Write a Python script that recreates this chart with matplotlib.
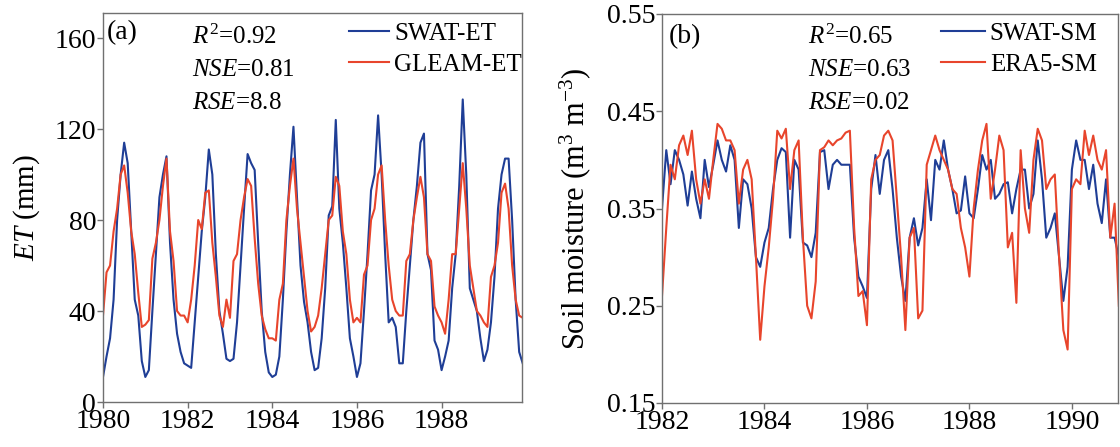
import numpy as np
import matplotlib
matplotlib.use("Agg")
import matplotlib.pyplot as plt

plt.rcParams['font.family'] = ['Liberation Serif', 'DejaVu Serif']
plt.rcParams['mathtext.fontset'] = 'custom'
plt.rcParams['mathtext.rm'] = 'Liberation Serif'
plt.rcParams['mathtext.it'] = 'Liberation Serif:italic'
plt.rcParams['mathtext.bf'] = 'Liberation Serif:bold'

# ---------------- data ----------------
et_start_year = 1980
swat_et = [
    11, 20, 28, 45, 80, 100, 114, 105, 75, 45, 38, 18,      # 1980
    11, 14, 40, 65, 90, 100, 108, 70, 45, 30, 22, 17,       # 1981
    16, 15, 35, 55, 75, 90, 111, 100, 65, 40, 30, 19,       # 1982
    18, 19, 35, 60, 85, 109, 105, 102, 70, 40, 22, 13,      # 1983
    11, 12, 20, 45, 75, 100, 121, 90, 60, 44, 35, 22,       # 1984
    14, 15, 28, 50, 82, 86, 124, 85, 70, 50, 28, 20,        # 1985
    11, 17, 40, 65, 93, 100, 126, 100, 65, 35, 37, 33,      # 1986
    17, 17, 40, 60, 80, 95, 114, 118, 65, 58, 27, 23,       # 1987
    14, 20, 27, 50, 65, 95, 133, 100, 50, 45, 40, 28,       # 1988
    18, 23, 35, 55, 85, 100, 107, 107, 80, 45, 22, 17,      # 1989
]
gleam_et = [
    38, 57, 60, 75, 85, 100, 104, 92, 75, 65, 48, 33,       # 1980
    34, 36, 63, 70, 80, 95, 107, 75, 62, 40, 38, 38,        # 1981
    35, 45, 60, 80, 76, 92, 93, 70, 55, 38, 33, 45,         # 1982
    37, 62, 65, 80, 90, 98, 95, 72, 52, 38, 32, 28,         # 1983
    28, 27, 45, 52, 80, 95, 107, 85, 70, 55, 40, 31,        # 1984
    33, 38, 50, 65, 80, 82, 99, 95, 75, 65, 45, 35,         # 1985
    37, 35, 56, 60, 80, 85, 100, 104, 80, 60, 45, 40,       # 1986
    38, 38, 62, 65, 80, 90, 99, 90, 65, 62, 42, 38,         # 1987
    35, 30, 45, 65, 65, 85, 105, 85, 60, 50, 40, 38,        # 1988
    35, 33, 55, 60, 70, 92, 96, 85, 60, 45, 38, 37,         # 1989
]

sm_start_year = 1982
swat_sm = [
    0.350, 0.410, 0.375, 0.410, 0.400, 0.385, 0.353, 0.388, 0.360, 0.340, 0.400, 0.372,  # 1982
    0.395, 0.420, 0.400, 0.388, 0.415, 0.400, 0.330, 0.380, 0.375, 0.350, 0.300, 0.290,  # 1983
    0.315, 0.330, 0.370, 0.400, 0.412, 0.408, 0.320, 0.400, 0.390, 0.315, 0.312, 0.300,  # 1984
    0.325, 0.408, 0.410, 0.370, 0.395, 0.400, 0.395, 0.395, 0.395, 0.320, 0.280, 0.270,  # 1985
    0.258, 0.370, 0.405, 0.365, 0.400, 0.410, 0.370, 0.320, 0.280, 0.255, 0.320, 0.340,  # 1986
    0.312, 0.330, 0.380, 0.338, 0.400, 0.390, 0.420, 0.390, 0.370, 0.345, 0.348, 0.383,  # 1987
    0.345, 0.340, 0.370, 0.405, 0.390, 0.400, 0.360, 0.365, 0.375, 0.377, 0.345, 0.370,  # 1988
    0.390, 0.390, 0.350, 0.365, 0.420, 0.380, 0.320, 0.330, 0.345, 0.300, 0.255, 0.290,  # 1989
    0.390, 0.420, 0.400, 0.400, 0.370, 0.395, 0.355, 0.335, 0.380, 0.320, 0.320, 0.300,  # 1990
]
era5_sm = [
    0.260, 0.330, 0.395, 0.380, 0.415, 0.425, 0.405, 0.430, 0.380, 0.355, 0.380, 0.360,  # 1982
    0.400, 0.437, 0.432, 0.420, 0.420, 0.410, 0.355, 0.390, 0.400, 0.380, 0.300, 0.215,  # 1983
    0.270, 0.310, 0.360, 0.430, 0.422, 0.432, 0.370, 0.410, 0.420, 0.320, 0.250, 0.237,  # 1984
    0.275, 0.410, 0.413, 0.420, 0.415, 0.420, 0.422, 0.428, 0.430, 0.330, 0.260, 0.265,  # 1985
    0.230, 0.380, 0.400, 0.405, 0.425, 0.430, 0.420, 0.360, 0.300, 0.225, 0.320, 0.330,  # 1986
    0.237, 0.245, 0.395, 0.410, 0.425, 0.410, 0.400, 0.390, 0.370, 0.365, 0.330, 0.310,  # 1987
    0.280, 0.350, 0.390, 0.420, 0.437, 0.360, 0.390, 0.425, 0.410, 0.310, 0.325, 0.253,  # 1988
    0.410, 0.350, 0.325, 0.400, 0.432, 0.420, 0.370, 0.380, 0.385, 0.300, 0.225, 0.205,  # 1989
    0.370, 0.380, 0.375, 0.430, 0.405, 0.425, 0.400, 0.390, 0.410, 0.320, 0.355, 0.250,  # 1990
]

et_labels = ["SWAT-ET", "GLEAM-ET"]
sm_labels = ["SWAT-SM", "ERA5-SM"]
et_stats = ["$R^2$=0.92", "$NSE$=0.81", "$RSE$=8.8"]
sm_stats = ["$R^2$=0.65", "$NSE$=0.63", "$RSE$=0.02"]
et_xticks = [1980, 1982, 1984, 1986, 1988]
et_yticks = [0, 40, 80, 120, 160]
sm_xticks = [1982, 1984, 1986, 1988, 1990]
sm_yticks = [0.15, 0.25, 0.35, 0.45, 0.55]

# ---------------- figure ----------------
W, H = 1120, 447
fig = plt.figure(figsize=(W / 100, H / 100), dpi=100)

def px_axes(l, t, r, b):
    return fig.add_axes([l / W, 1 - b / H, (r - l) / W, (b - t) / H])

BLUE = "#1f3e96"
RED = "#e8452c"
SPINE = "#707070"
FS = 20

ax1 = px_axes(103, 13, 522, 402)
ax2 = px_axes(662, 14, 1118, 403)

t_et = et_start_year + np.arange(len(swat_et)) / 12.0
t_sm = sm_start_year + np.arange(len(swat_sm)) / 12.0

ax1.plot(t_et, swat_et, color=BLUE, lw=1.5, label=et_labels[0])
ax1.plot(t_et, gleam_et, color=RED, lw=1.5, label=et_labels[1])
ax2.plot(t_sm, swat_sm, color=BLUE, lw=1.5, label=sm_labels[0])
ax2.plot(t_sm, era5_sm, color=RED, lw=1.5, label=sm_labels[1])

ax1.set_xlim(1980, 1989.9)
ax1.set_ylim(0, 171)
ax1.set_xticks(et_xticks)
ax1.set_yticks(et_yticks)
ax2.set_xlim(1982, 1990.9)
ax2.set_ylim(0.15, 0.55)
ax2.set_xticks(sm_xticks)
ax2.set_yticks(sm_yticks)
ax2.set_yticklabels([f"{v:.2f}" for v in sm_yticks])

for ax in (ax1, ax2):
    for s in ax.spines.values():
        s.set_color(SPINE)
        s.set_linewidth(1.0)
    ax.tick_params(axis='both', direction='out', length=4, width=1, color=SPINE,
                   labelsize=FS, pad=1)

ax1.set_ylabel("$ET$ (mm)", fontsize=21, labelpad=9)
ax2.set_ylabel("Soil moisture (m$^3$ m$^{-3}$)", fontsize=22, labelpad=10)

def fx(x):
    return x / W

def fy(y):
    return 1 - y / H

fig.text(fx(107), fy(33), "(a)", fontsize=FS, va='center', ha='left')
fig.text(fx(669), fy(37), "(b)", fontsize=FS, va='center', ha='left')

for i, s in enumerate(et_stats):
    fig.text(fx(192), fy(37 + 33 * i), s, fontsize=18, va='center', ha='left')
for i, s in enumerate(sm_stats):
    fig.text(fx(808), fy(37 + 33 * i), s, fontsize=18, va='center', ha='left')

leg_kw = dict(frameon=False, fontsize=18, handletextpad=0.2,
              labelspacing=0.35, borderpad=0, borderaxespad=0, loc='upper left')
ax1.legend(bbox_to_anchor=(fx(349), fy(22)), bbox_transform=fig.transFigure,
           handlelength=1.6, **leg_kw)
ax2.legend(bbox_to_anchor=(fx(941), fy(22)), bbox_transform=fig.transFigure,
           handlelength=1.75, **leg_kw)

fig.savefig("out.png", dpi=100)
